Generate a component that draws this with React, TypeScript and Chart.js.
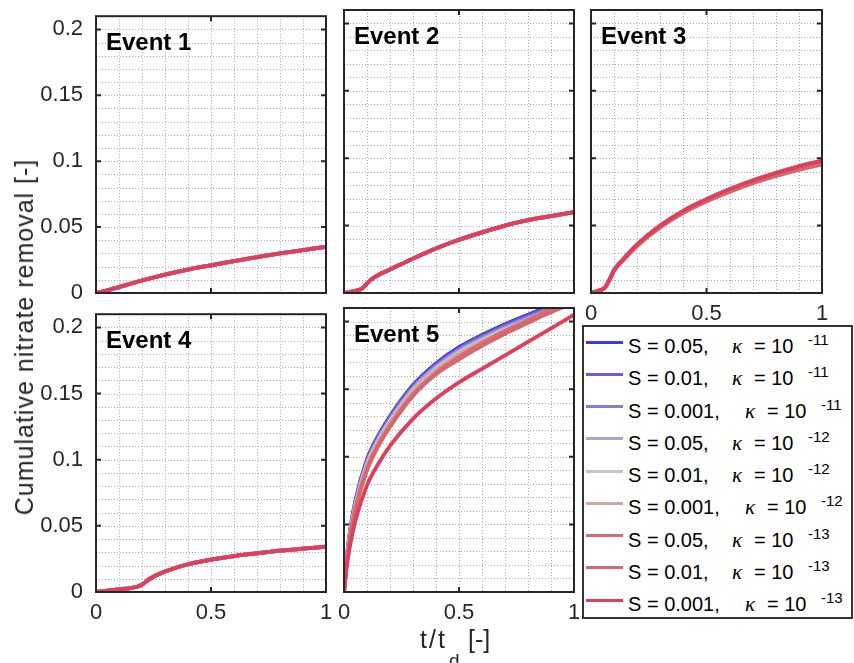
import React, { useEffect, useRef } from 'react';
import { Chart, registerables } from 'chart.js';
Chart.register(...registerables);

// ---------------- data ----------------
const T_E1 = [0, 0.05, 0.1, 0.2, 0.3, 0.4, 0.5, 0.6, 0.7, 0.8, 0.9, 1];
const V_E1 = [0, 0.002, 0.0045, 0.0095, 0.014, 0.0178, 0.021, 0.0242, 0.0272, 0.03, 0.0326, 0.035];

const T_E2 = [0, 0.04, 0.08, 0.1, 0.12, 0.15, 0.2, 0.3, 0.4, 0.5, 0.6, 0.7, 0.8, 0.9, 1];
const V_E2 = [0, 0.0012, 0.0035, 0.0072, 0.0102, 0.0135, 0.0175, 0.0255, 0.033, 0.0395, 0.045, 0.05, 0.054, 0.057, 0.06];

const T_E3 = [0, 0.04, 0.06, 0.08, 0.1, 0.15, 0.2, 0.3, 0.4, 0.5, 0.6, 0.7, 0.8, 0.9, 1];
const V_E3_HIGH = [0, 0.002, 0.004, 0.01, 0.017, 0.027, 0.036, 0.05, 0.061, 0.0695, 0.077, 0.0835, 0.089, 0.094, 0.098];
const V_E3_LOW = [0, 0.002, 0.004, 0.0095, 0.0165, 0.0262, 0.035, 0.0488, 0.0595, 0.068, 0.0752, 0.0815, 0.0868, 0.0915, 0.0955];

const T_E4 = [0, 0.05, 0.1, 0.15, 0.18, 0.2, 0.23, 0.26, 0.3, 0.4, 0.5, 0.6, 0.7, 0.8, 0.9, 1];
const V_E4 = [0, 0.001, 0.002, 0.003, 0.004, 0.0055, 0.0095, 0.0125, 0.0155, 0.021, 0.0245, 0.0272, 0.0292, 0.0312, 0.0328, 0.0342];

const T_E5 = [0, 0.01, 0.025, 0.05, 0.1, 0.15, 0.2, 0.3, 0.4, 0.5, 0.6, 0.7, 0.8, 0.9, 1];
const V_E5_S1 = [0, 0.022, 0.044, 0.068, 0.098, 0.116, 0.13, 0.153, 0.169, 0.181, 0.19, 0.198, 0.205, 0.212, 0.219];
const V_E5_S2 = [0, 0.021, 0.043, 0.067, 0.097, 0.115, 0.129, 0.152, 0.168, 0.18, 0.189, 0.197, 0.204, 0.211, 0.218];
const V_E5_S3 = [0, 0.021, 0.042, 0.066, 0.096, 0.114, 0.128, 0.151, 0.167, 0.179, 0.188, 0.196, 0.203, 0.21, 0.217];
const V_E5_S4 = [0, 0.02, 0.041, 0.065, 0.095, 0.113, 0.127, 0.15, 0.166, 0.178, 0.187, 0.195, 0.202, 0.209, 0.216];
const V_E5_S5 = [0, 0.02, 0.041, 0.064, 0.094, 0.112, 0.126, 0.149, 0.165, 0.177, 0.186, 0.194, 0.201, 0.208, 0.215];
const V_E5_S6 = [0, 0.019, 0.04, 0.063, 0.093, 0.111, 0.125, 0.148, 0.164, 0.176, 0.185, 0.193, 0.2, 0.207, 0.214];
const V_E5_S7 = [0, 0.019, 0.039, 0.062, 0.091, 0.109, 0.123, 0.146, 0.162, 0.174, 0.184, 0.193, 0.201, 0.209, 0.216];
const V_E5_S8 = [0, 0.018, 0.038, 0.061, 0.09, 0.108, 0.122, 0.145, 0.161, 0.172, 0.182, 0.191, 0.199, 0.207, 0.214];
const V_E5_S9 = [0, 0.016, 0.033, 0.053, 0.079, 0.095, 0.108, 0.128, 0.143, 0.155, 0.165, 0.175, 0.185, 0.195, 0.205];

const SERIES_S = ['0.05', '0.01', '0.001', '0.05', '0.01', '0.001', '0.05', '0.01', '0.001'];
const SERIES_KAPPA_EXP = ['-11', '-11', '-11', '-12', '-12', '-12', '-13', '-13', '-13'];
const SERIES_COLORS = ['#3c3cdc', '#6a5adc', '#8a7cd8', '#aea4d4', '#c6c6c6', '#d2a6a6', '#d66c72', '#d4686e', '#e03e5a'];

const EVENT_NAMES = ['Event 1', 'Event 2', 'Event 3', 'Event 4', 'Event 5'];
const EVENT_T = [T_E1, T_E2, T_E3, T_E4, T_E5];
const EVENT_SERIES = [
  [V_E1, V_E1, V_E1, V_E1, V_E1, V_E1, V_E1, V_E1, V_E1],
  [V_E2, V_E2, V_E2, V_E2, V_E2, V_E2, V_E2, V_E2, V_E2],
  [V_E3_HIGH, V_E3_HIGH, V_E3_HIGH, V_E3_HIGH, V_E3_HIGH, V_E3_HIGH, V_E3_LOW, V_E3_LOW, V_E3_HIGH],
  [V_E4, V_E4, V_E4, V_E4, V_E4, V_E4, V_E4, V_E4, V_E4],
  [V_E5_S1, V_E5_S2, V_E5_S3, V_E5_S4, V_E5_S5, V_E5_S6, V_E5_S7, V_E5_S8, V_E5_S9],
];

const X_TICKS = [0, 0.5, 1];
const X_TICK_LABELS = ['0', '0.5', '1'];
const Y_TICKS = [0, 0.05, 0.1, 0.15, 0.2];
const Y_TICK_LABELS = ['0', '0.05', '0.1', '0.15', '0.2'];
const X_MIN = 0, X_MAX = 1, Y_MIN = 0, Y_MAX = 0.21;
const X_GRID_STEP = 0.1, Y_GRID_STEP = 0.01;

const Y_TITLE = 'Cumulative nitrate removal [-]';

// ---------------- layout / style ----------------
const FONT = '"Liberation Sans", Arial, Helvetica, sans-serif';
const AXIS_COLOR = '#262626';
const GRID_COLOR = '#ababab';
const PAD_L = 80, PAD_T = 20, PAD_R = 15, PAD_B = 45;

const PANELS = [
  { ev: 0, l: 96, t: 10, r: 326, b: 293, showX: false, showY: true },
  { ev: 1, l: 344, t: 10, r: 574, b: 293, showX: false, showY: false },
  { ev: 2, l: 591, t: 10, r: 822, b: 293, showX: true, showY: false },
  { ev: 3, l: 96, t: 308, r: 326, b: 592, showX: true, showY: true },
  { ev: 4, l: 344, t: 308, r: 574, b: 592, showX: true, showY: false },
];

function makeFramePlugin(name: string) {
  return {
    id: 'matlabFrame',
    beforeDatasetsDraw(chart: any) {
      const { ctx, chartArea: a, scales } = chart;
      const xs = scales.x, ys = scales.y;
      ctx.save();
      ctx.strokeStyle = GRID_COLOR;
      ctx.lineWidth = 1;
      ctx.setLineDash([1, 2]);
      for (let k = 1; X_MIN + k * X_GRID_STEP < X_MAX - 1e-9; k++) {
        const px = Math.round(xs.getPixelForValue(X_MIN + k * X_GRID_STEP)) + 0.5;
        ctx.beginPath(); ctx.moveTo(px, a.top); ctx.lineTo(px, a.bottom); ctx.stroke();
      }
      for (let k = 1; Y_MIN + k * Y_GRID_STEP < Y_MAX - 1e-9; k++) {
        const py = Math.round(ys.getPixelForValue(Y_MIN + k * Y_GRID_STEP)) + 0.5;
        ctx.beginPath(); ctx.moveTo(a.left, py); ctx.lineTo(a.right, py); ctx.stroke();
      }
      ctx.restore();
    },
    afterDatasetsDraw(chart: any) {
      const { ctx, chartArea: a, scales } = chart;
      const xs = scales.x, ys = scales.y;
      ctx.save();
      ctx.setLineDash([]);
      ctx.strokeStyle = AXIS_COLOR;
      ctx.lineWidth = 2;
      ctx.strokeRect(a.left, a.top, a.right - a.left, a.bottom - a.top);
      const TL = 5;
      X_TICKS.forEach((v) => {
        const px = xs.getPixelForValue(v);
        ctx.beginPath();
        ctx.moveTo(px, a.bottom); ctx.lineTo(px, a.bottom - TL);
        ctx.moveTo(px, a.top); ctx.lineTo(px, a.top + TL);
        ctx.stroke();
      });
      Y_TICKS.forEach((v) => {
        const py = ys.getPixelForValue(v);
        ctx.beginPath();
        ctx.moveTo(a.left, py); ctx.lineTo(a.left + TL, py);
        ctx.moveTo(a.right, py); ctx.lineTo(a.right - TL, py);
        ctx.stroke();
      });
      ctx.fillStyle = '#000';
      ctx.font = `bold 24px ${FONT}`;
      ctx.textAlign = 'left';
      ctx.textBaseline = 'alphabetic';
      ctx.fillText(name, a.left + 10, a.top + 34);
      ctx.restore();
    },
  };
}

function Panel({ p }: { p: (typeof PANELS)[number] }) {
  const ref = useRef<HTMLCanvasElement>(null);
  const W = p.r - p.l + PAD_L + PAD_R;
  const H = p.b - p.t + PAD_T + PAD_B;
  useEffect(() => {
    const t = EVENT_T[p.ev];
    const series = EVENT_SERIES[p.ev];
    const chart = new Chart(ref.current as HTMLCanvasElement, {
      type: 'line',
      data: {
        datasets: series.map((vals, i) => ({
          label: `S = ${SERIES_S[i]}, κ = 10^${SERIES_KAPPA_EXP[i]}`,
          data: t.map((x, j) => ({ x, y: vals[j] })),
          borderColor: SERIES_COLORS[i],
          backgroundColor: SERIES_COLORS[i],
          borderWidth: 3.8,
          pointRadius: 0,
          fill: false,
          cubicInterpolationMode: 'monotone',
          order: series.length - i,
        })),
      },
      options: {
        responsive: false,
        animation: false,
        devicePixelRatio: 1,
        events: [],
        layout: { padding: { left: 0, top: PAD_T, right: PAD_R, bottom: 0 } },
        plugins: { legend: { display: false }, tooltip: { enabled: false }, title: { display: false } },
        scales: {
          x: {
            type: 'linear',
            min: X_MIN,
            max: X_MAX,
            grid: { display: false, drawTicks: false },
            border: { display: false },
            afterBuildTicks: (s: any) => { s.ticks = X_TICKS.map((value) => ({ value })); },
            afterFit: (s: any) => { s.height = PAD_B; },
            ticks: {
              display: p.showX,
              autoSkip: false,
              maxRotation: 0,
              padding: 8,
              color: AXIS_COLOR,
              font: { family: FONT, size: 22 },
              callback: (_v: any, i: number) => X_TICK_LABELS[i],
            },
          },
          y: {
            type: 'linear',
            min: Y_MIN,
            max: Y_MAX,
            grid: { display: false, drawTicks: false },
            border: { display: false },
            afterBuildTicks: (s: any) => { s.ticks = Y_TICKS.map((value) => ({ value })); },
            afterFit: (s: any) => { s.width = PAD_L; },
            ticks: {
              display: p.showY,
              autoSkip: false,
              padding: 13,
              color: AXIS_COLOR,
              font: { family: FONT, size: 22 },
              callback: (_v: any, i: number) => Y_TICK_LABELS[i],
            },
          },
        },
      } as any,
      plugins: [makeFramePlugin(EVENT_NAMES[p.ev])],
    });
    return () => chart.destroy();
  }, []);
  return (
    <canvas
      ref={ref}
      width={W}
      height={H}
      style={{ position: 'absolute', left: p.l - PAD_L, top: p.t - PAD_T, width: W, height: H }}
    />
  );
}

const LEG_Y0 = 342;
const LEG_DY = 32.25;

function Legend() {
  const txt = { position: 'absolute' as const, fontFamily: FONT, color: '#000', whiteSpace: 'nowrap' as const };
  return (
    <>
      <div
        style={{
          position: 'absolute', left: 582, top: 325, width: 271, height: 294,
          border: '2px solid #333', boxSizing: 'border-box', background: '#fff',
        }}
      />
      {SERIES_S.map((s, i) => {
        const cy = LEG_Y0 + i * LEG_DY;
        const dx = s.length > 4 ? 13 : 0;
        return (
          <React.Fragment key={i}>
            <div style={{ position: 'absolute', left: 586, top: cy - 1.5, width: 37, height: 3, background: SERIES_COLORS[i] }} />
            <span style={{ ...txt, left: 628, top: cy + 11 - 17, fontSize: 20, lineHeight: '20px' }}>{`S = ${s},`}</span>
            <span style={{ ...txt, left: 732 + dx, top: cy + 11 - 17, fontSize: 21, lineHeight: '20px', fontFamily: '"Liberation Serif", "Times New Roman", serif', fontStyle: 'italic' }}>κ</span>
            <span style={{ ...txt, left: 754 + dx, top: cy + 11 - 17, fontSize: 20, lineHeight: '20px' }}>= 10</span>
            <span style={{ ...txt, left: 808 + dx, top: cy + 3 - 13, fontSize: 15, lineHeight: '15px' }}>{SERIES_KAPPA_EXP[i]}</span>
          </React.Fragment>
        );
      })}
    </>
  );
}

export default function App() {
  return (
    <div style={{ position: 'absolute', left: 0, top: 0, width: 854, height: 663, overflow: 'hidden', background: '#fff' }}>
      {PANELS.map((p, i) => <Panel key={i} p={p} />)}
      <Legend />
      <div
        style={{
          position: 'absolute', left: 24, top: 337, transform: 'translate(-50%, -50%) rotate(-90deg)',
          fontFamily: FONT, fontSize: 25, letterSpacing: '1px', color: AXIS_COLOR, whiteSpace: 'nowrap', lineHeight: '28px',
        }}
      >
        {Y_TITLE}
      </div>
      <span style={{ position: 'absolute', left: 420, top: 627, fontFamily: FONT, fontSize: 25, lineHeight: '25px', letterSpacing: '2px', color: AXIS_COLOR }}>t/t</span>
      <span style={{ position: 'absolute', left: 449, top: 651, fontFamily: FONT, fontSize: 19, lineHeight: '19px', color: AXIS_COLOR }}>d</span>
      <span style={{ position: 'absolute', left: 468, top: 627, fontFamily: FONT, fontSize: 25, lineHeight: '25px', color: AXIS_COLOR }}>[-]</span>
    </div>
  );
}
